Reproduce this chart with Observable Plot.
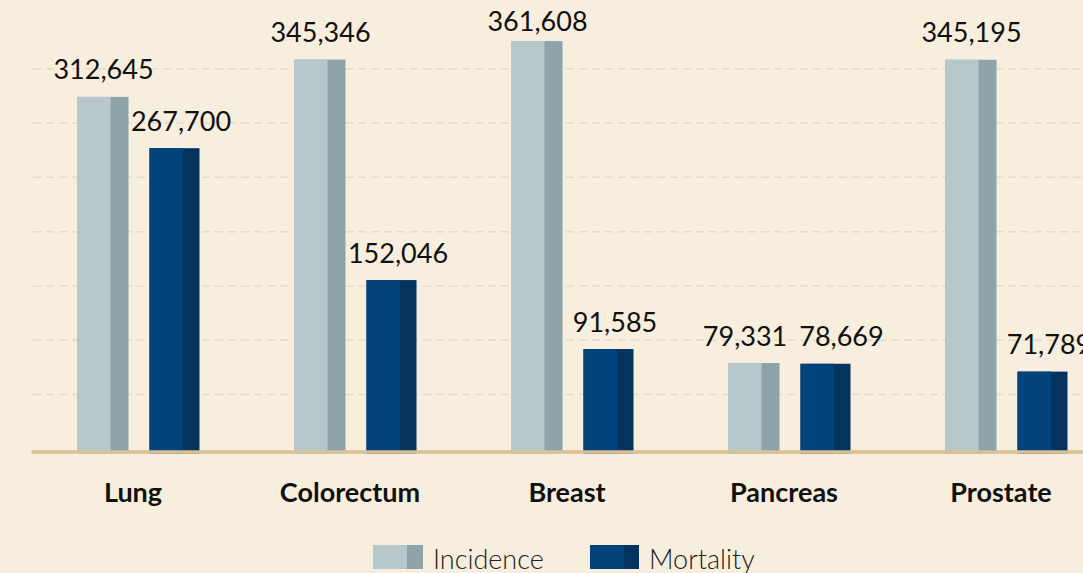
<!DOCTYPE html>
<html><head><meta charset="utf-8">
<script src="https://cdn.jsdelivr.net/npm/d3@7"></script>
<script src="https://cdn.jsdelivr.net/npm/@observablehq/plot@0.6"></script>
<style>
html,body{margin:0;padding:0;background:#f7eedd;}
#wrap{width:1083px;height:573px;overflow:hidden;position:relative;font-family:Lato,"Noto Sans",sans-serif;background:#f7eedd;}
#chart{position:absolute;left:0;top:0;width:1115px;}
#chart svg{max-width:none !important;}
#legend{position:absolute;top:530px;left:0;width:1083px;height:43px;}
.sw{position:absolute;top:15px;height:24px;}
.lt{position:absolute;top:15px;font-size:27px;line-height:27px;font-weight:300;color:#222;white-space:nowrap;}
</style></head>
<body>
<div id="wrap"><div id="chart"></div><div id="legend"></div></div>
<script>
// ---- data ----
const cancers = ["Lung", "Colorectum", "Breast", "Pancreas", "Prostate"];
const incidence = [312645, 345346, 361608, 79331, 345195];
const mortality = [267700, 152046, 91585, 78669, 71789];
const seriesNames = ["Incidence", "Mortality"];
const gridTicks = [50000, 100000, 150000, 200000, 250000, 300000, 350000];

// ---- styling ----
const colors = {
  Incidence: {front: "#b7c8cd", side: "#8ea3aa"},
  Mortality: {front: "#03437c", side: "#04335e"}
};
const rows = cancers.map((c, i) => ({cancer: c, incidence: incidence[i], mortality: mortality[i]}));
const fmt = d3.format(",");
// gridlines sit on the 3D back wall: slightly compressed perspective
const backWall = v => 4560 + 0.952 * v;

const H = 530, MB = 76.5;
const yDomain = [0, 397600];
const band = 217;
const incL = 47.5, incW = 51, incFront = 33;
const morL = 119.5, morW = 50, morFront = 33.5;
const labelFont = "27px Lato";

// ---- data-label placement (keep inside the top, push apart when overlapping) ----
const yS = Plot.scale({y: {domain: yDomain, range: [H - MB, 0]}});
const ctx = document.createElement("canvas").getContext("2d");
ctx.font = labelFont;
const labels = [];
rows.forEach(r => {
  const mk = (series, value, center) => {
    const text = fmt(value);
    const w = ctx.measureText(text).width;
    const base = Math.max(yS.apply(value) - 18, 30);
    return {cancer: r.cancer, series, text, w, base, dx: center - band / 2};
  };
  const a = mk("Incidence", r.incidence, incL + incW / 2);
  const b = mk("Mortality", r.mortality, morL + morW / 2 + 6);
  const vOverlap = Math.abs(a.base - b.base) < 24;
  const need = a.w / 2 + b.w / 2 + 12;
  if (vOverlap && b.dx - a.dx < need) {
    const d = (need - (b.dx - a.dx)) / 2;
    a.dx -= d; b.dx += d;
  }
  a.y = yS.invert(a.base); b.y = yS.invert(b.base);
  labels.push(a, b);
});

const chart = Plot.plot({
  width: 1115,
  height: H,
  marginLeft: 33,
  marginRight: 0,
  marginTop: 0,
  marginBottom: MB,
  x: {domain: cancers, range: [29.5, 1114.5], padding: 0, axis: null},
  y: {domain: yDomain, axis: null},
  style: {background: "transparent", fontFamily: "Lato, 'Noto Sans', sans-serif", overflow: "visible", maxWidth: "none"},
  marks: [
    Plot.ruleY(gridTicks, {y: d => backWall(d), stroke: "#e3dccb", strokeWidth: 1.5, strokeDasharray: "8,5"}),
    // incidence bars: side face then front face
    Plot.barY(rows, {x: "cancer", y: "incidence", fill: colors.Incidence.side, insetLeft: incL, insetRight: band - incL - incW}),
    Plot.barY(rows, {x: "cancer", y: "incidence", fill: colors.Incidence.front, insetLeft: incL, insetRight: band - incL - incFront}),
    // mortality bars
    Plot.barY(rows, {x: "cancer", y: "mortality", fill: colors.Mortality.side, insetLeft: morL, insetRight: band - morL - morW}),
    Plot.barY(rows, {x: "cancer", y: "mortality", fill: colors.Mortality.front, insetLeft: morL, insetRight: band - morL - morFront}),
    // baseline
    Plot.ruleY([0], {stroke: "#d7c195", strokeWidth: 3.5, strokeLinecap: "round", dy: -2}),
    // value labels
    ...labels.map(l => Plot.text([l], {x: "cancer", y: "y", text: "text", dx: l.dx, lineAnchor: "bottom", fontSize: 27, fill: "#111"})),
    // category labels
    Plot.text(cancers, {x: d => d, y: 0, text: d => d, dx: -6, dy: 48, lineAnchor: "bottom", fontSize: 27, fontWeight: "bold", fill: "#111"})
  ]
});
document.getElementById("chart").appendChild(chart);

// ---- legend ----
const legend = document.getElementById("legend");
const legendItems = [
  {name: seriesNames[0], swLeft: 373, swW: 50, front: 34, textLeft: 433},
  {name: seriesNames[1], swLeft: 590, swW: 49, front: 34, textLeft: 649}
];
for (const it of legendItems) {
  const c = colors[it.name];
  const sw = document.createElement("div");
  sw.className = "sw";
  sw.style.left = it.swLeft + "px";
  sw.style.width = it.swW + "px";
  sw.style.background = `linear-gradient(to right, ${c.front} 0, ${c.front} ${it.front}px, ${c.side} ${it.front}px, ${c.side} 100%)`;
  legend.appendChild(sw);
  const t = document.createElement("div");
  t.className = "lt";
  t.style.left = it.textLeft + "px";
  t.textContent = it.name;
  legend.appendChild(t);
}
</script>
</body></html>
